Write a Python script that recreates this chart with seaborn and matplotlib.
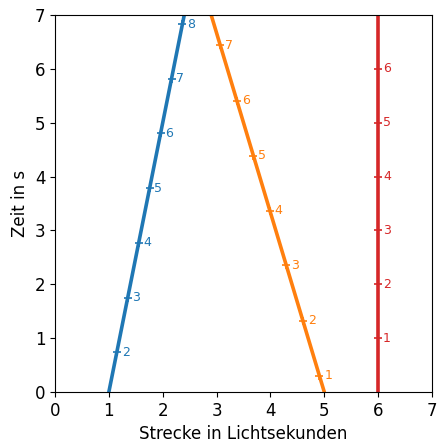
import matplotlib
matplotlib.use('Agg')
import matplotlib.pyplot as plt
import numpy as np
import pandas as pd
import seaborn as sns

# world lines: position at t=0 and at t=7
names = ['blue', 'orange', 'red']
x_start = [1.0, 5.0, 6.0]
x_end = [2.4, 2.9, 6.0]
t_range = [0.0, 7.0]
colors = ['tab:blue', 'tab:orange', 'tab:red']

# clock ticks along each world line (coordinate time) and their labels
tick_times = {
    'blue': [0.74, 1.75, 2.77, 3.78, 4.80, 5.82, 6.83],
    'orange': [0.30, 1.32, 2.35, 3.37, 4.39, 5.41, 6.44],
    'red': [1, 2, 3, 4, 5, 6],
}
tick_labels = {
    'blue': ['2', '3', '4', '5', '6', '7', '8'],
    'orange': ['1', '2', '3', '4', '5', '6', '7'],
    'red': ['1', '2', '3', '4', '5', '6'],
}

sns.set_style('ticks', {'axes.edgecolor': 'black', 'text.color': 'black',
                        'axes.labelcolor': 'black', 'xtick.color': 'black',
                        'ytick.color': 'black'})

lines = pd.DataFrame({
    'name': np.repeat(names, 2),
    't': t_range * len(names),
    'x': [v for a, b in zip(x_start, x_end) for v in (a, b)],
})

fig = plt.figure(figsize=(4.37, 4.43), dpi=100)
ax = fig.add_axes([55 / 437, 51 / 443, 377 / 437, 377 / 443])

sns.lineplot(data=lines, x='x', y='t', hue='name', palette=colors, sort=False,
             estimator=None, linewidth=2.6, legend=False, ax=ax)

for name, a, b, c in zip(names, x_start, x_end, colors):
    ts = np.array(tick_times[name], dtype=float)
    xs = a + (b - a) * ts / t_range[1]
    ax.scatter(xs, ts, marker='+', color=c, s=30, linewidths=1.2, zorder=3)
    for xx, tt, lab in zip(xs, ts, tick_labels[name]):
        ax.text(xx + 0.09, tt, lab, color=c, fontsize=9, va='center', ha='left')

ax.set_xlim(0, 7)
ax.set_ylim(0, 7)
ax.set_xticks(range(8))
ax.set_yticks(range(8))
ax.tick_params(labelsize=12)
ax.set_xlabel('Strecke in Lichtsekunden', fontsize=12)
ax.set_ylabel('Zeit in s', fontsize=12)
for s in ax.spines.values():
    s.set_visible(True)

fig.savefig('out.png', dpi=100)
